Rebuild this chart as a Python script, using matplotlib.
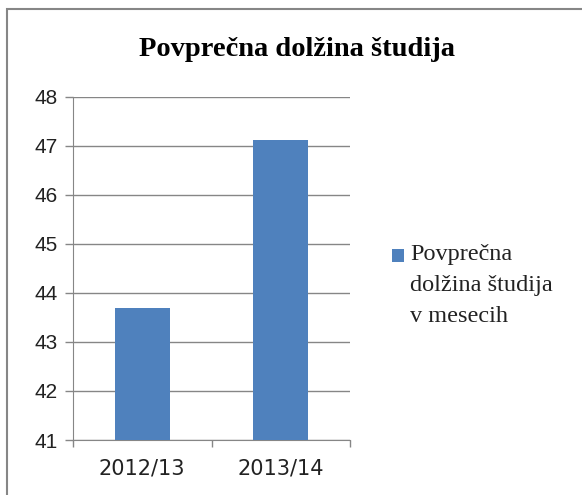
import matplotlib.pyplot as plt
from matplotlib.patches import Rectangle

# Data
years = ['2012/13', '2013/14']
months = [43.69, 47.12]
series_name = 'Povprečna\ndolžina študija\nv mesecih'
title = 'Povprečna dolžina študija'
bar_color = '#4f81bd'

W, H = 582, 495
fig = plt.figure(figsize=(W / 100, H / 100), dpi=100)

# outer chart frame (runs off the right and bottom edges)
fig.patches.append(Rectangle((7 / W, -0.05), 1.0, 1.05 - 9 / H, transform=fig.transFigure,
                             fill=False, edgecolor='#868686', linewidth=1.5))

# plot area in pixel coordinates
left, right, top, bottom = 73, 350, 97, 440
ax = fig.add_axes([left / W, 1 - bottom / H, (right - left) / W, (bottom - top) / H])

x = range(len(years))
ax.bar(x, months, width=0.4, color=bar_color, zorder=3)
ax.set_xlim(-0.5, 1.5)
ax.set_ylim(41, 48)
ax.set_yticks(range(41, 49))
ax.set_xticks([-0.5, 0.5, 1.5])
ax.set_xticklabels([])
ax.set_xticks(list(x), minor=True)
ax.set_xticklabels(years, minor=True, fontsize=15, fontfamily='DejaVu Sans', color='#222222')
ax.tick_params(axis='x', which='major', length=5, color='#868686', width=1)
ax.tick_params(axis='x', which='minor', length=0, pad=13)
ax.tick_params(axis='y', length=6, color='#868686', width=1, labelsize=15, pad=5)
for lbl in ax.get_yticklabels():
    lbl.set_fontfamily('Liberation Sans')
    lbl.set_color('#222222')

ax.grid(axis='y', color='#868686', linewidth=1, zorder=0)
for s in ['top', 'right']:
    ax.spines[s].set_visible(False)
ax.spines['left'].set_color('#868686')
ax.spines['bottom'].set_color('#868686')

fig.text(297 / W, 1 - 50 / H, title, ha='center', va='center', fontsize=20.5,
         fontweight='bold', fontfamily='Liberation Serif')

# legend: square + three-line label
fig.patches.append(Rectangle((392 / W, 1 - 262 / H), 12 / W, 13 / H, transform=fig.transFigure,
                             facecolor=bar_color, edgecolor='none'))
fig.text(410 / W, 1 - 244 / H, series_name, ha='left', va='top', fontsize=17.5,
         fontfamily='Liberation Serif', linespacing=1.62, color='#222222')

fig.savefig('out.png', dpi=100)
